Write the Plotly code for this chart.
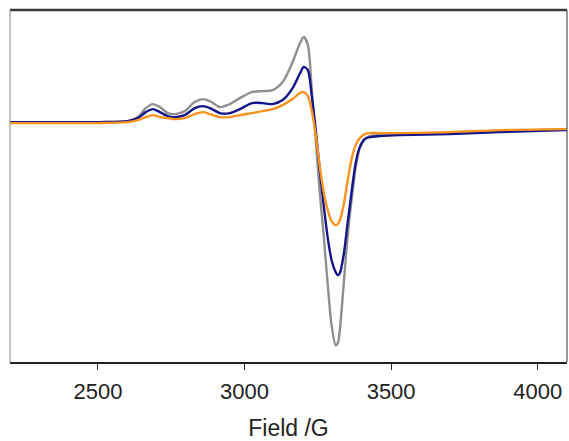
import plotly.graph_objects as go

# magnetic field (G), shared grid for the three spectra
field = [2200, 2370, 2507, 2602, 2636, 2663, 2687, 2711, 2738, 2762, 2796, 2830,
         2858, 2882, 2916, 2950, 2984, 3025, 3062, 3096, 3130, 3164, 3188, 3202,
         3216, 3229, 3243, 3256, 3270, 3284, 3297, 3311, 3318, 3325, 3338, 3352,
         3366, 3379, 3393, 3410, 3427, 3461, 3529, 3700, 3870, 4100]

# EPR signal, arbitrary units
grey = [0, 0, 0, 1, 5, 14, 18, 15, 9, 8, 11, 20, 23, 21, 15, 18, 24, 30, 31, 32,
        40, 60, 78, 85, 77, 34, -18, -68, -113, -163, -203, -223, -221, -208,
        -163, -113, -76, -46, -26, -17, -14, -13, -12, -11, -9, -7]
blue = [0, 0, 0, 1, 4, 10, 13, 10, 6, 5, 7, 14, 16, 14, 9, 9, 13, 19, 19, 18,
        22, 34, 48, 55, 52, 27, -8, -46, -83, -116, -138, -150, -153, -151,
        -133, -100, -68, -41, -25, -17, -15, -14, -13, -12, -10, -8]
orange = [-1, -1, -1, 0, 2, 5, 7, 5, 4, 3, 4, 8, 10, 8, 5, 5, 7, 9, 11, 13,
          17, 23, 29, 30, 26, 12, -13, -43, -70, -88, -99, -103, -102, -98,
          -83, -58, -36, -23, -16, -12, -11, -11, -11, -10, -8, -7]

fig = go.Figure()
for ys, color in [(grey, "#8f8f8f"), (blue, "#15158a"), (orange, "#f7931e")]:
    fig.add_trace(go.Scatter(
        x=field, y=ys, mode="lines",
        line=dict(color=color, width=2.4, shape="spline", smoothing=0.8),
        showlegend=False, hoverinfo="skip",
    ))

# --- frame (top is heavier than the sides)
fig.add_shape(type="line", xref="paper", yref="paper", x0=0, x1=1, y0=1, y1=1,
              line=dict(color="#3a3a3a", width=2.5))
fig.add_shape(type="line", xref="paper", yref="paper", x0=0, x1=0, y0=0, y1=1,
              line=dict(color="#9a9a9a", width=1.2))
fig.add_shape(type="line", xref="paper", yref="paper", x0=1, x1=1, y0=0, y1=1,
              line=dict(color="#555555", width=1.2))

fig.update_layout(
    width=569, height=441,
    margin=dict(l=10, r=2, t=10, b=79),
    paper_bgcolor="white", plot_bgcolor="white",
    font=dict(family="Liberation Sans, Arial", color="#222222"),
    xaxis=dict(
        range=[2200, 4100], tickvals=[2500, 3000, 3500, 4000],
        showgrid=False, zeroline=False,
        showline=True, linecolor="#222222", linewidth=1.5,
        ticks="outside", ticklen=6, tickcolor="#222222", tickwidth=1.2,
        tickfont=dict(size=22), ticklabelstandoff=3,
        title=dict(text="Field /G", font=dict(size=23), standoff=18),
    ),
    yaxis=dict(range=[-239.7, 112], showticklabels=False, showgrid=False,
               zeroline=False, showline=False, ticks=""),
)

fig.write_html("out.html", config={"displayModeBar": False},
               post_script="document.body.style.margin='0';")
